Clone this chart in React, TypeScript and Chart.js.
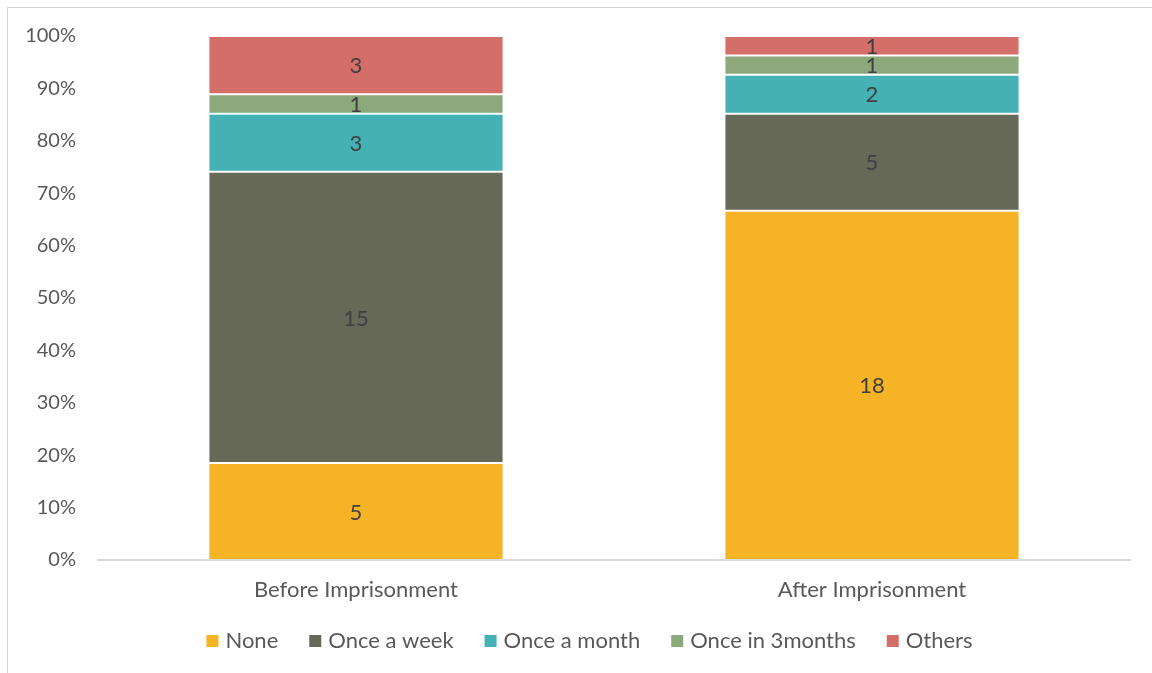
import React, { useEffect, useRef } from "react";
import { Chart, registerables } from "chart.js";

Chart.register(...registerables);

const categories = ["Before Imprisonment", "After Imprisonment"];
const seriesNames = ["None", "Once a week", "Once a month", "Once in 3months", "Others"];
const noneCounts = [5, 18];
const weeklyCounts = [15, 5];
const monthlyCounts = [3, 2];
const threeMonthCounts = [1, 1];
const otherCounts = [3, 1];
const yTicks = [0, 10, 20, 30, 40, 50, 60, 70, 80, 90, 100];

const seriesColors = ["#F6B325", "#666958", "#45B1B5", "#8DA87B", "#D46E69"];
const FONT = "Lato, 'Open Sans', sans-serif";
const TEXT = "#595959";

const allCounts = [noneCounts, weeklyCounts, monthlyCounts, threeMonthCounts, otherCounts];
const totals = categories.map((_, i) => allCounts.reduce((s, arr) => s + arr[i], 0));

const valueLabels = {
  id: "valueLabels",
  afterDatasetsDraw(chart: any) {
    const ctx = chart.ctx;
    ctx.save();
    ctx.font = `22px ${FONT}`;
    ctx.fillStyle = "#3F3F3F";
    ctx.textAlign = "center";
    ctx.textBaseline = "middle";
    chart.data.datasets.forEach((ds: any, di: number) => {
      const meta = chart.getDatasetMeta(di);
      meta.data.forEach((bar: any, i: number) => {
        const y = (bar.y + bar.base) / 2;
        ctx.fillText(String(ds.counts[i]), bar.x, y + 1);
      });
    });
    ctx.restore();
  },
};

const bottomLegend = {
  id: "bottomLegend",
  afterDraw(chart: any) {
    const ctx = chart.ctx;
    ctx.save();
    ctx.font = `22px ${FONT}`;
    ctx.textBaseline = "middle";
    ctx.textAlign = "left";
    const box = 12;
    const gap = 7;
    const spacing = 31;
    const items = chart.data.datasets.map((ds: any) => ({
      label: ds.label,
      color: ds.backgroundColor,
      w: box + gap + ctx.measureText(ds.label).width,
    }));
    const total = items.reduce((s: number, it: any) => s + it.w, 0) + spacing * (items.length - 1);
    let x = 589.5 - total / 2;
    const cy = 641;
    items.forEach((it: any) => {
      ctx.fillStyle = it.color;
      ctx.fillRect(x, cy - 6, box, box);
      ctx.fillStyle = TEXT;
      ctx.fillText(it.label, x + box + gap, cy);
      x += it.w + spacing;
    });
    ctx.restore();
  },
};

export default function App() {
  const ref = useRef<HTMLCanvasElement>(null);
  useEffect(() => {
    if (!ref.current) return;
    const chart = new Chart(ref.current, {
      type: "bar",
      data: {
        labels: categories,
        datasets: allCounts.map((arr, k) => ({
          label: seriesNames[k],
          data: arr.map((v, i) => (v / totals[i]) * 100),
          counts: arr,
          backgroundColor: seriesColors[k],
          borderColor: "rgba(255,255,255,0.15)",
          borderWidth: 1,
          borderSkipped: false,
          categoryPercentage: 1,
          barPercentage: 0.572,
        })) as any,
      },
      options: {
        responsive: false,
        animation: false,
        layout: { padding: { top: 36, right: 22, left: 0, bottom: 0 } },
        plugins: {
          tooltip: { enabled: false },
          legend: { display: false },
        },
        scales: {
          x: {
            stacked: true,
            afterFit: (s: any) => {
              s.height = 113;
            },
            grid: { display: false, drawTicks: false },
            border: { display: true, color: "#D9D9D9", width: 2 },
            ticks: { font: { family: FONT, size: 22 }, color: TEXT, padding: 17 },
          },
          y: {
            stacked: true,
            min: 0,
            max: 100,
            afterFit: (s: any) => {
              s.width = 98;
            },
            afterBuildTicks: (s: any) => {
              s.ticks = yTicks.map((v) => ({ value: v }));
            },
            grid: { display: false, drawTicks: false },
            border: { display: false },
            ticks: {
              font: { family: FONT, size: 20 },
              color: TEXT,
              padding: 22,
              callback: (v: any) => v + "%",
            },
          },
        },
      },
      plugins: [valueLabels, bottomLegend],
    });
    return () => chart.destroy();
  }, []);

  return (
    <div style={{ position: "absolute", left: 0, top: 0, width: 1152, height: 673, overflow: "hidden", background: "#fff" }}>
      <div
        style={{
          position: "absolute",
          left: 7,
          top: 7,
          width: 1200,
          height: 700,
          borderLeft: "1px solid #D4D4D4",
          borderTop: "1px solid #D4D4D4",
        }}
      />
      <canvas ref={ref} width={1152} height={673} style={{ position: "absolute", left: 0, top: 0 }} />
    </div>
  );
}
